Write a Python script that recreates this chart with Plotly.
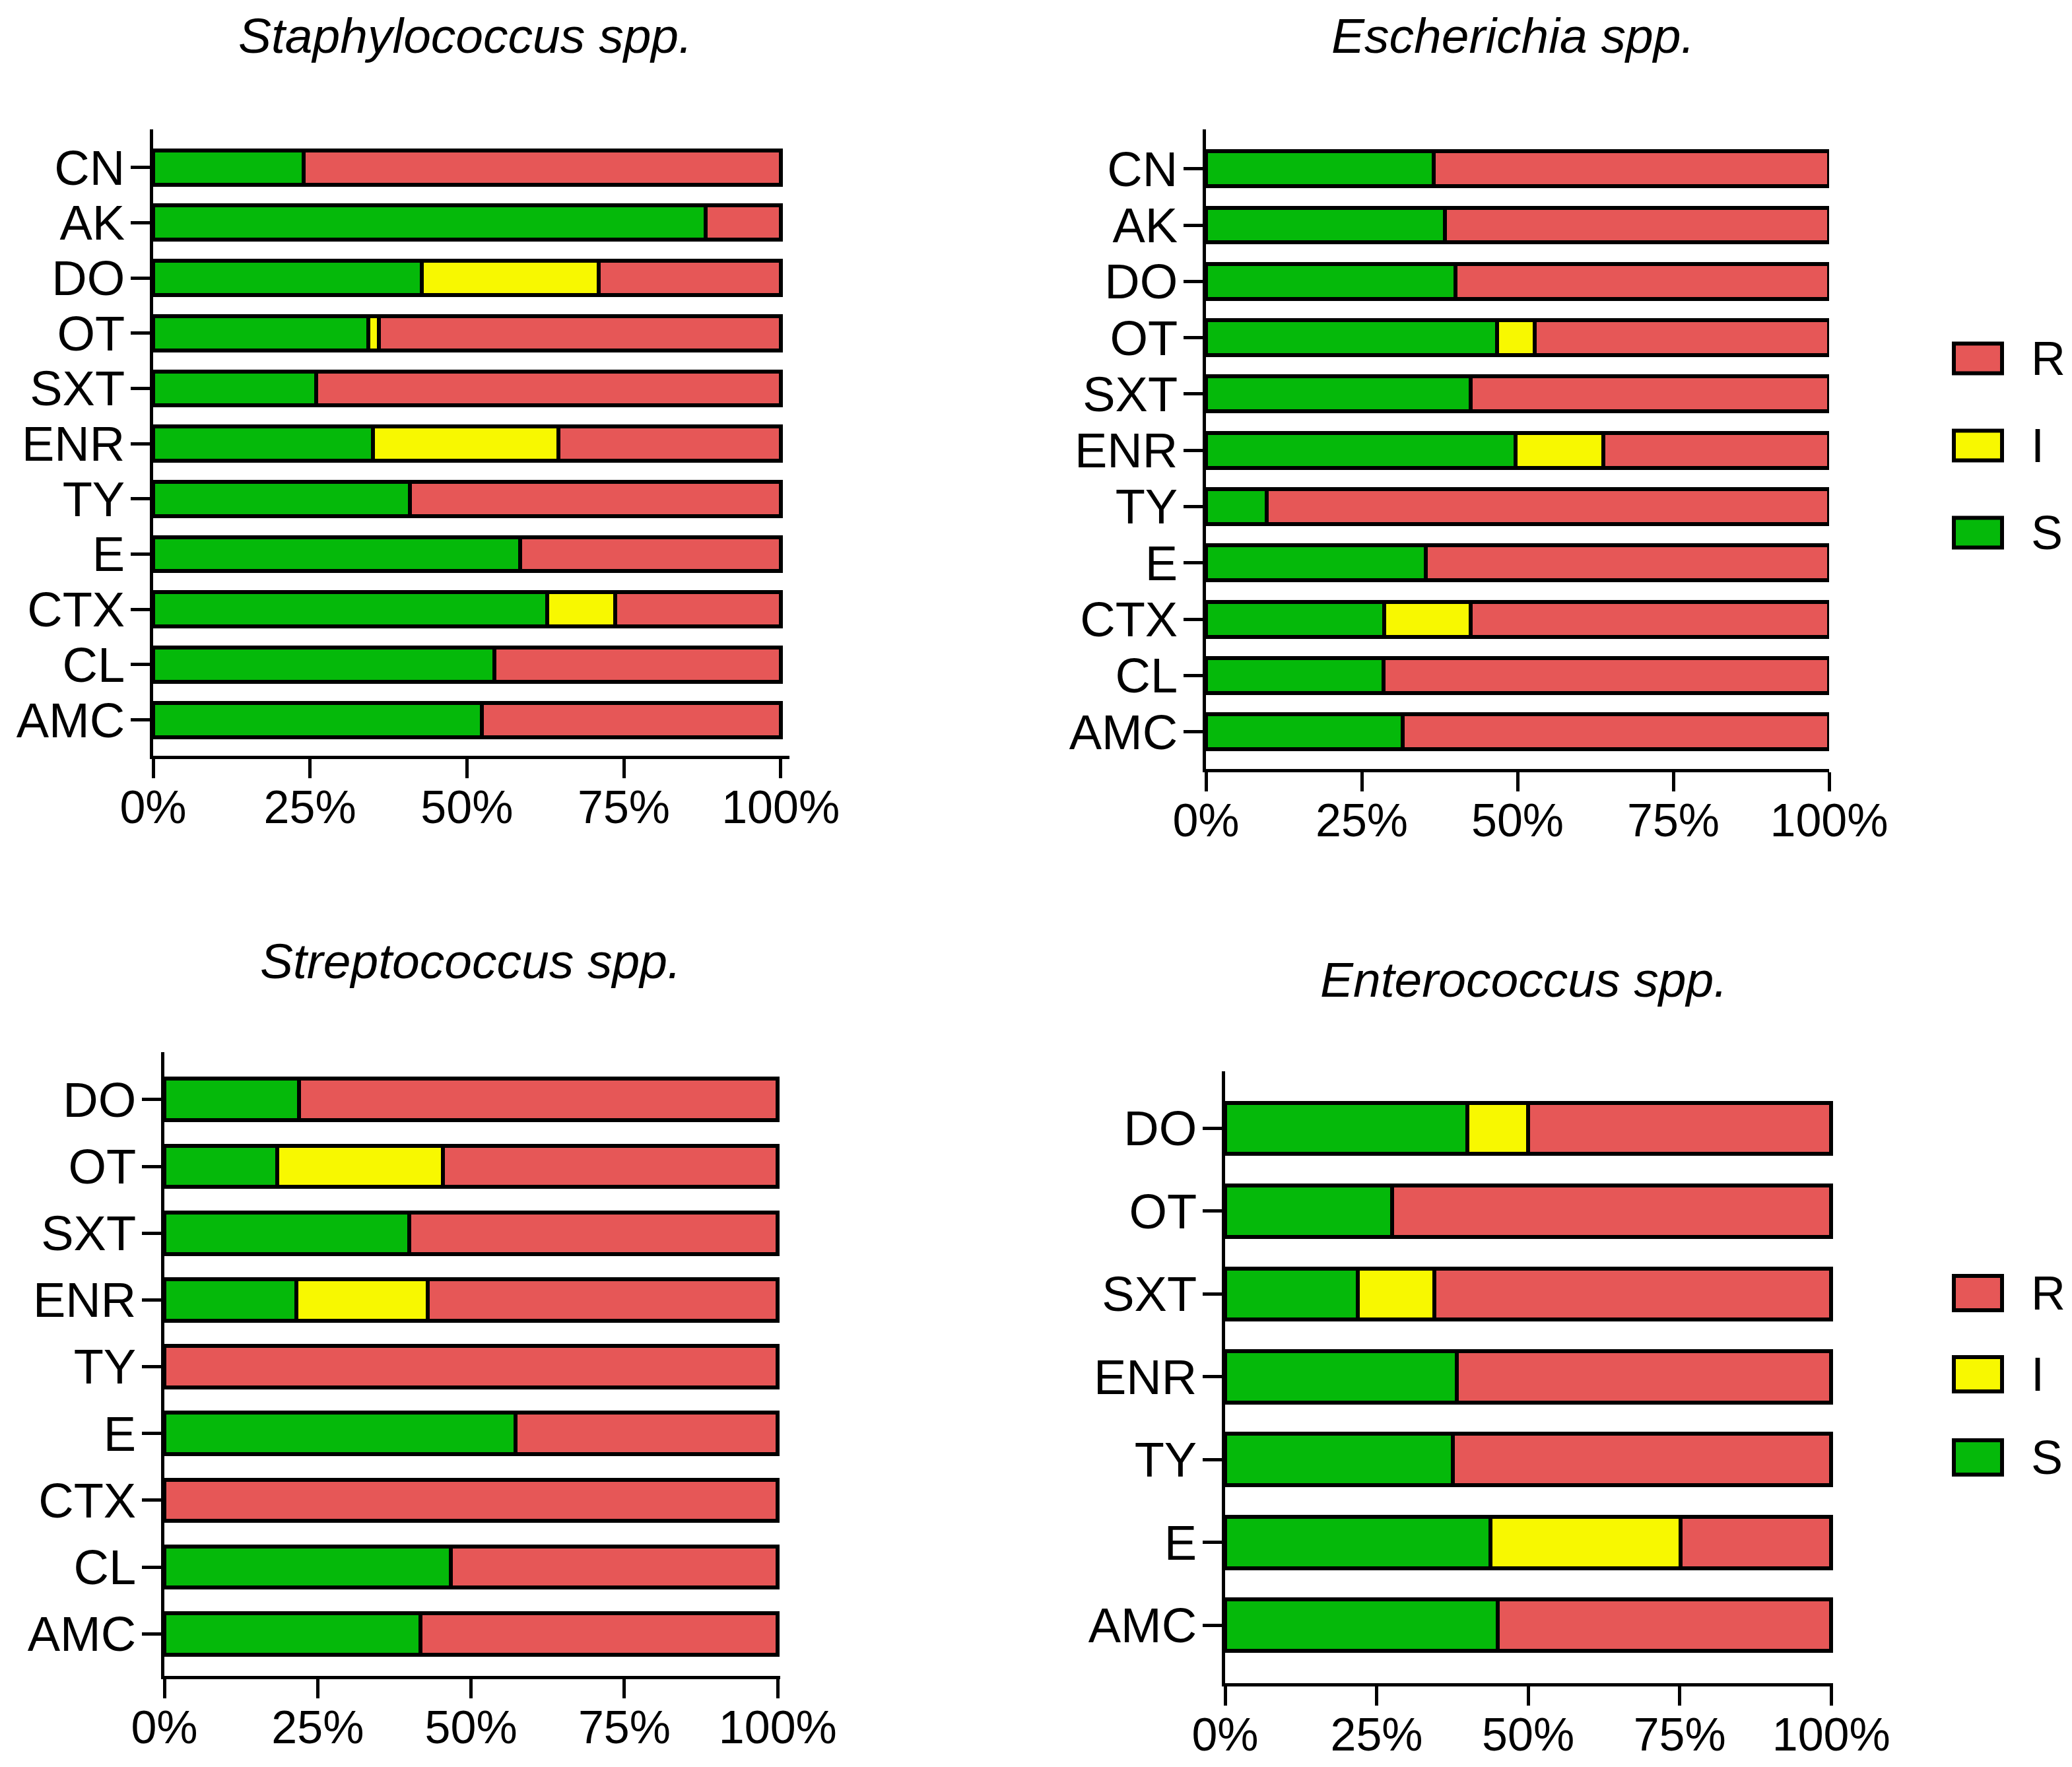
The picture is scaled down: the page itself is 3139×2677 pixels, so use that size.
import plotly.graph_objects as go

# page has an 8px body margin: figure is drawn inside it
OFF = 8
W, H = 3139 - 2 * OFF, 2677 - 2 * OFF

# ---------------- data ----------------
staph_cats = ["CN", "AK", "DO", "OT", "SXT", "ENR", "TY", "E", "CTX", "CL", "AMC"]
staph_S = [24.0, 88.0, 42.8, 34.3, 26.0, 35.0, 40.9, 58.5, 62.8, 54.4, 52.4]
staph_I = [0, 0, 28.2, 1.7, 0, 29.6, 0, 0, 10.8, 0, 0]
staph_R = [76.0, 12.0, 29.0, 64.0, 74.0, 35.4, 59.1, 41.5, 26.4, 45.6, 47.6]

esch_cats = ["CN", "AK", "DO", "OT", "SXT", "ENR", "TY", "E", "CTX", "CL", "AMC"]
esch_S = [36.5, 38.3, 40.0, 46.7, 42.5, 49.7, 9.7, 35.3, 28.6, 28.5, 31.6]
esch_I = [0, 0, 0, 6.1, 0, 14.1, 0, 0, 13.9, 0, 0]
esch_R = [63.5, 61.7, 60.0, 47.2, 57.5, 36.2, 90.3, 64.7, 57.5, 71.5, 68.4]

strep_cats = ["DO", "OT", "SXT", "ENR", "TY", "E", "CTX", "CL", "AMC"]
strep_S = [22.0, 18.4, 39.9, 21.5, 0, 57.2, 0, 46.7, 41.8]
strep_I = [0, 27.0, 0, 21.4, 0, 0, 0, 0, 0]
strep_R = [78.0, 54.6, 60.1, 57.1, 100.0, 42.8, 100.0, 53.3, 58.2]

entero_cats = ["DO", "OT", "SXT", "ENR", "TY", "E", "AMC"]
entero_S = [40.0, 27.5, 21.9, 38.2, 37.6, 43.8, 45.0]
entero_I = [10.0, 0, 12.6, 0, 0, 31.3, 0]
entero_R = [50.0, 72.5, 65.5, 61.8, 62.4, 24.9, 55.0]

titles = ["Staphylococcus spp.", "Escherichia spp.", "Streptococcus spp.", "Enterococcus spp."]
x_tickvals = [0, 25, 50, 75, 100]
x_ticktext = ["0%", "25%", "50%", "75%", "100%"]
legend_labels = ["R", "I", "S"]

COL = {"S": "#05B90A", "I": "#F8F800", "R": "#E65757"}
FONT = "Liberation Sans, Arial, sans-serif"


def px(v):
    return (v - OFF) / W


def py(v):
    return 1 - (v - OFF) / H


panels = [
    dict(cats=staph_cats, S=staph_S, I=staph_I, R=staph_R,
         xpx=(232, 1196), xmax=101.4, ypx=(196, 1145), rtop=0.69, rbot=0.65,
         title_xy=(705, 54)),
    dict(cats=esch_cats, S=esch_S, I=esch_I, R=esch_R,
         xpx=(1827, 2771), xmax=100.0, ypx=(196, 1165), rtop=0.70, rbot=0.66,
         title_xy=(2292, 54)),
    dict(cats=strep_cats, S=strep_S, I=strep_I, R=strep_R,
         xpx=(249, 1182), xmax=100.4, ypx=(1594, 2539), rtop=0.71, rbot=0.63,
         title_xy=(713, 1456)),
    dict(cats=entero_cats, S=entero_S, I=entero_I, R=entero_R,
         xpx=(1856, 2777), xmax=100.3, ypx=(1623, 2550), rtop=0.69, rbot=0.70,
         title_xy=(2308, 1484)),
]

fig = go.Figure()
annotations = []
shapes = []

for i, p in enumerate(panels):
    n = i + 1
    xa = "x" if n == 1 else f"x{n}"
    ya = "y" if n == 1 else f"y{n}"
    cats_bottom_up = list(reversed(p["cats"]))
    for key in ["S", "I", "R"]:
        vals = list(reversed(p[key]))
        fig.add_trace(go.Bar(
            x=vals, y=cats_bottom_up, orientation="h", name=key,
            marker=dict(color=COL[key], line=dict(color="black", width=6)),
            xaxis=xa, yaxis=ya, showlegend=False,
        ))
    ncat = len(p["cats"])
    x0, x1 = p["xpx"]
    yt, yb = p["ypx"]
    xdom = [px(x0), px(x1)]
    ydom = [py(yb), py(yt)]
    xkey = "xaxis" if n == 1 else f"xaxis{n}"
    ykey = "yaxis" if n == 1 else f"yaxis{n}"
    fig.update_layout(**{
        xkey: dict(domain=xdom, anchor=ya, range=[0, p["xmax"]], automargin=False,
                   tickmode="array", tickvals=x_tickvals, ticktext=x_ticktext,
                   showline=True, linecolor="black", linewidth=5,
                   ticks="outside", ticklen=29, tickwidth=5, tickcolor="black",
                   showgrid=False, zeroline=False, ticklabelstandoff=-16,
                   tickfont=dict(family=FONT, size=70, color="black"), fixedrange=True),
        ykey: dict(domain=ydom, anchor=xa, type="category", automargin=False,
                   categoryorder="array", categoryarray=cats_bottom_up,
                   tickmode="array", tickvals=cats_bottom_up, ticktext=cats_bottom_up,
                   range=[-p["rbot"], ncat - 1 + p["rtop"]],
                   showline=True, linecolor="black", linewidth=5,
                   ticks="outside", ticklen=29, tickwidth=5, tickcolor="black",
                   showgrid=False, zeroline=False, ticklabelstandoff=-6,
                   tickfont=dict(family=FONT, size=74, color="black"), fixedrange=True),
    })
    tx, ty = p["title_xy"]
    annotations.append(dict(
        text=f"<i>{titles[i]}</i>", x=px(tx), y=py(ty), xref="paper", yref="paper",
        showarrow=False, xanchor="center", yanchor="middle",
        font=dict(family=FONT, size=75, color="black")))

legend_rows = [
    dict(centers=[543, 675, 807], h=51),
    dict(centers=[1959, 2082, 2208], h=58),
]
legend_cols = [COL["R"], COL["I"], COL["S"]]
for row in legend_rows:
    for lab, c, cy in zip(legend_labels, legend_cols, row["centers"]):
        hh = row["h"] / 2
        shapes.append(dict(type="rect", xref="paper", yref="paper",
                           x0=px(2960), x1=px(3033),
                           y0=py(cy + hh - 3), y1=py(cy - hh + 3),
                           fillcolor=c, line=dict(color="black", width=6)))
        annotations.append(dict(text=lab, x=px(3075), y=py(cy), xref="paper", yref="paper",
                                showarrow=False, xanchor="left", yanchor="middle",
                                font=dict(family=FONT, size=72, color="black")))

fig.update_layout(
    width=W, height=H, margin=dict(l=0, r=0, t=0, b=0, autoexpand=False),
    barmode="stack", bargap=0.38,
    paper_bgcolor="white", plot_bgcolor="white",
    annotations=annotations, shapes=shapes, showlegend=False,
)

fig.write_html("out.html")
